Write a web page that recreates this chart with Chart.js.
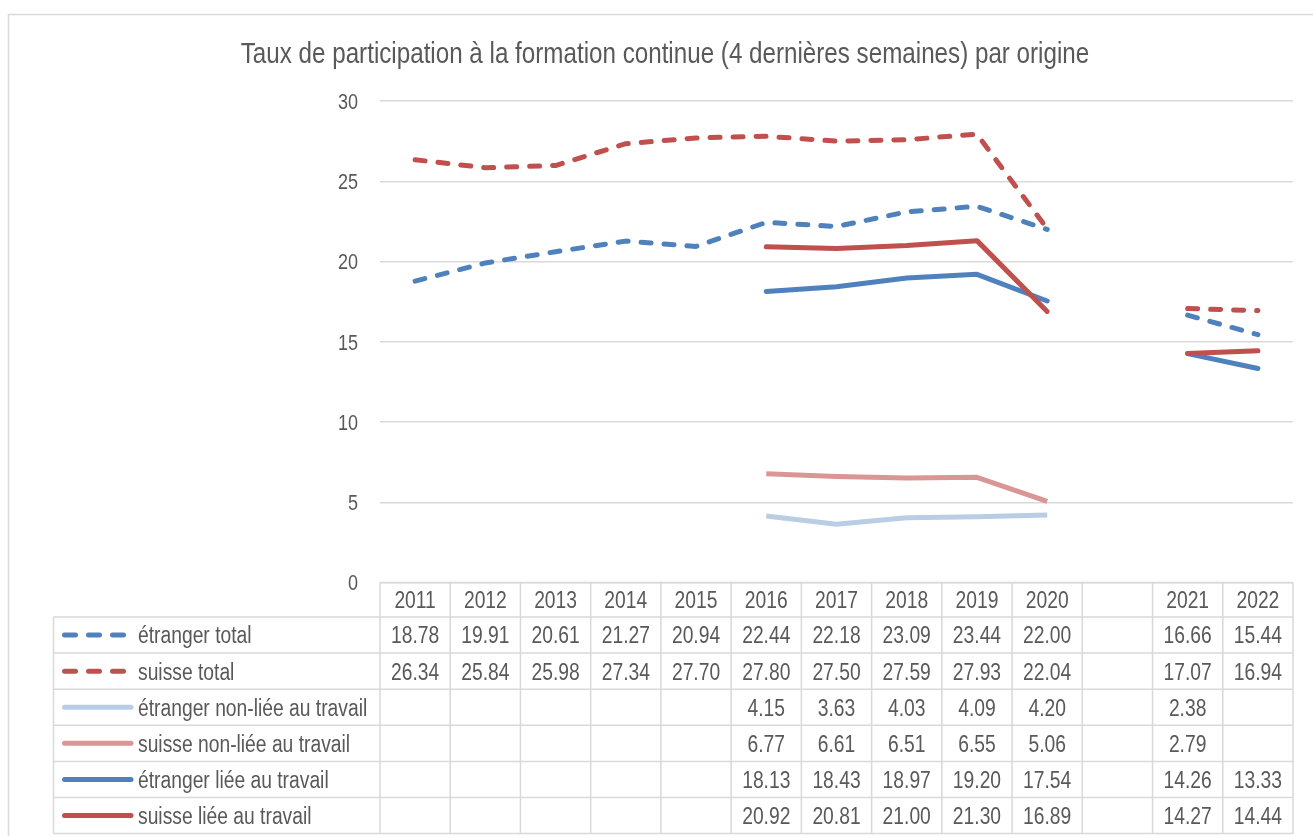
<!DOCTYPE html>
<html>
<head>
<meta charset="utf-8">
<script src="https://cdn.jsdelivr.net/npm/chart.js@4.4.1/dist/chart.umd.min.js"></script>
<style>
    html, body { margin: 0; padding: 0; background: #fff; }
    #wrap { width: 1313px; height: 836px; position: relative; }
</style>
</head>
<body>
<div id="wrap"><canvas id="chart"></canvas></div>
<script>
// données
const years = ["2011", "2012", "2013", "2014", "2015", "2016", "2017", "2018", "2019", "2020", "", "2021", "2022"];
const etrangerTotal = [18.78, 19.91, 20.61, 21.27, 20.94, 22.44, 22.18, 23.09, 23.44, 22.00, null, 16.66, 15.44];
const suisseTotal = [26.34, 25.84, 25.98, 27.34, 27.70, 27.80, 27.50, 27.59, 27.93, 22.04, null, 17.07, 16.94];
const etrangerNonLiee = [null, null, null, null, null, 4.15, 3.63, 4.03, 4.09, 4.20, null, 2.38, null];
const suisseNonLiee = [null, null, null, null, null, 6.77, 6.61, 6.51, 6.55, 5.06, null, 2.79, null];
const etrangerLiee = [null, null, null, null, null, 18.13, 18.43, 18.97, 19.20, 17.54, null, 14.26, 13.33];
const suisseLiee = [null, null, null, null, null, 20.92, 20.81, 21.00, 21.30, 16.89, null, 14.27, 14.44];
const yTicks = [0, 5, 10, 15, 20, 25, 30];

const titleText = "Taux de participation à la formation continue (4 dernières semaines) par origine";
const textColor = "#595959";
const gridColor = "#d9d9d9";
const fontFamily = "'Liberation Sans', Arial, sans-serif";
const narrow = 0.82; // police étroite (pas d'Arial Narrow installée)

const series = [
    {label: "étranger total", data: etrangerTotal, color: "#4f81bd", dash: [10, 13], cap: "round"},
    {label: "suisse total", data: suisseTotal, color: "#c0504d", dash: [10, 13], cap: "round"},
    {label: "étranger non-liée au travail", data: etrangerNonLiee, color: "#b9cde5", dash: [], cap: "butt"},
    {label: "suisse non-liée au travail", data: suisseNonLiee, color: "#d99694", dash: [], cap: "butt"},
    {label: "étranger liée au travail", data: etrangerLiee, color: "#4f81bd", dash: [], cap: "round"},
    {label: "suisse liée au travail", data: suisseLiee, color: "#c0504d", dash: [], cap: "round"}
];

function narrowText(ctx, text, x, y, align) {
    ctx.save();
    ctx.translate(x, y);
    ctx.scale(narrow, 1);
    ctx.textAlign = align;
    ctx.fillText(text, 0, 0);
    ctx.restore();
}

// titre + cadre + étiquettes de l'axe Y
const framePlugin = {
    id: "frame",
    beforeDraw(chart) {
        const ctx = chart.ctx;
        ctx.save();
        ctx.strokeStyle = gridColor;
        ctx.lineWidth = 1.5;
        ctx.strokeRect(8.5, 14.5, 1400, 900);
        ctx.fillStyle = textColor;
        ctx.font = "29.5px " + fontFamily;
        ctx.textBaseline = "alphabetic";
        narrowText(ctx, titleText, 665, 63, "center");

        const y = chart.scales.y;
        ctx.font = "22px " + fontFamily;
        yTicks.forEach(v => {
            narrowText(ctx, String(v), y.right - 22, y.getPixelForValue(v) + 22 * 0.358, "right");
        });
        ctx.restore();
    }
};

// tableau de données sous le graphique
const tablePlugin = {
    id: "dataTable",
    afterDraw(chart) {
        const ctx = chart.ctx;
        const x = chart.scales.x;
        const colW = x.getPixelForValue(1) - x.getPixelForValue(0);
        const left = x.getPixelForValue(0) - colW / 2;
        const right = left + colW * years.length;
        const top = chart.chartArea.bottom;
        const headH = 34.5;
        const rowH = 36.1;
        const legendLeft = 53.5;
        const bottom = top + headH + rowH * series.length;
        const fontSize = 23.5;
        const base = fontSize * 0.358;

        ctx.save();
        ctx.strokeStyle = gridColor;
        ctx.lineWidth = 1.5;
        ctx.beginPath();
        ctx.moveTo(left, top);
        ctx.lineTo(right, top);
        for (let r = 0; r <= series.length; r++) {
            const y = top + headH + r * rowH;
            ctx.moveTo(legendLeft, y);
            ctx.lineTo(right, y);
        }
        ctx.moveTo(legendLeft, top + headH);
        ctx.lineTo(legendLeft, bottom);
        for (let c = 0; c <= years.length; c++) {
            const xx = left + c * colW;
            ctx.moveTo(xx, top);
            ctx.lineTo(xx, bottom);
        }
        ctx.stroke();

        ctx.fillStyle = textColor;
        ctx.font = fontSize + "px " + fontFamily;
        ctx.textBaseline = "alphabetic";
        years.forEach((yr, i) => {
            narrowText(ctx, yr, x.getPixelForValue(i), top + headH / 2 + base, "center");
        });

        series.forEach((s, r) => {
            const cy = top + headH + r * rowH + rowH / 2;
            // clé de légende
            ctx.save();
            ctx.strokeStyle = s.color;
            ctx.lineWidth = 5;
            ctx.lineCap = "round";
            ctx.setLineDash(s.dash.length ? [11, 13] : []);
            ctx.beginPath();
            ctx.moveTo(64.5, cy);
            ctx.lineTo(s.dash.length ? 126 : 131, cy);
            ctx.stroke();
            ctx.restore();

            narrowText(ctx, s.label, 138, cy + base, "left");
            s.data.forEach((v, i) => {
                if (v === null) return;
                narrowText(ctx, v.toFixed(2), x.getPixelForValue(i), cy + base, "center");
            });
        });
        ctx.restore();
    }
};

const datasets = series.map((s, i) => ({
    label: s.label,
    data: s.data,
    borderColor: s.color,
    backgroundColor: s.color,
    borderWidth: 5,
    borderDash: s.dash,
    borderCapStyle: s.cap,
    borderJoinStyle: "round",
    pointRadius: 0,
    pointHoverRadius: 0,
    tension: 0,
    spanGaps: false,
    fill: false,
    order: series.length - i
}));

new Chart(document.getElementById("chart"), {
    type: "line",
    data: {labels: years, datasets},
    options: {
        responsive: true,
        maintainAspectRatio: false,
        animation: false,
        layout: {padding: {top: 101, bottom: 253.5, left: 0, right: 20}},
        plugins: {
            legend: {display: false},
            title: {display: false},
            tooltip: {enabled: false}
        },
        scales: {
            x: {
                type: "category",
                offset: true,
                display: false
            },
            y: {
                min: 0,
                max: 30,
                afterBuildTicks: scale => {
                    scale.ticks = yTicks.map(v => ({value: v}));
                },
                afterFit: scale => {
                    scale.width = 380;
                },
                border: {display: false},
                grid: {color: gridColor, lineWidth: 1.5, drawTicks: false},
                ticks: {display: false}
            }
        }
    },
    plugins: [framePlugin, tablePlugin]
});
</script>
</body>
</html>
